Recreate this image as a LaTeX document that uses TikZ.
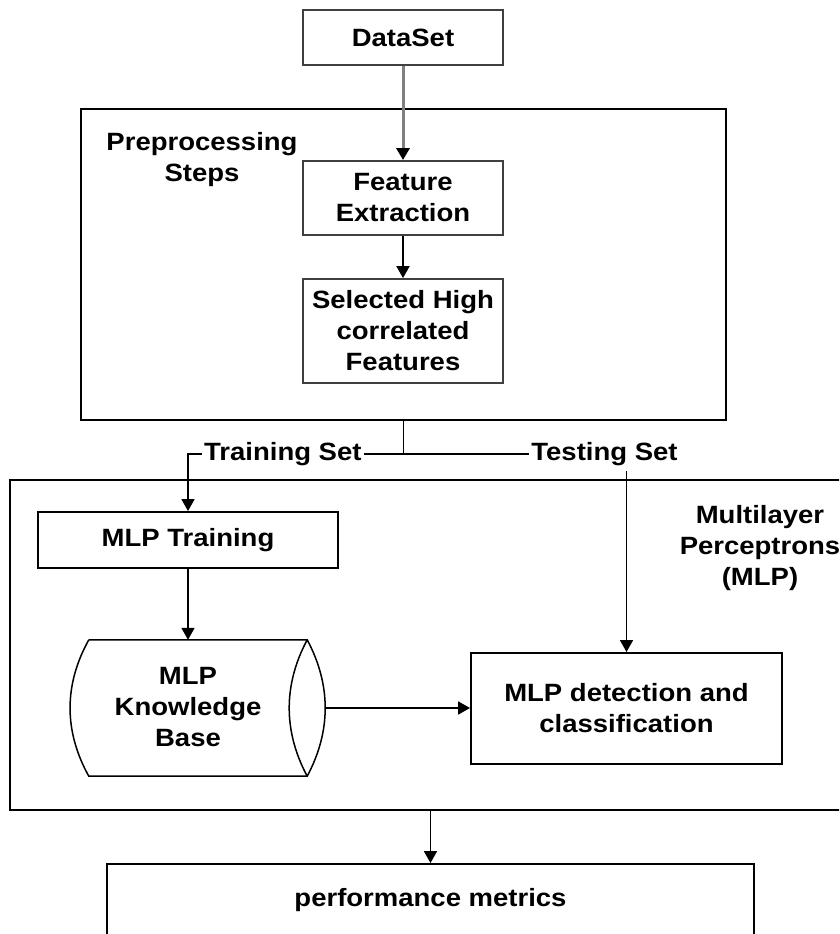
\documentclass[tikz,border=0pt]{standalone}
\usepackage{fontspec}
\setmainfont[FakeStretch=1.1]{Liberation Sans}
\usetikzlibrary{arrows.meta}

\begin{document}
\begin{tikzpicture}[x=1pt,y=-1pt,
    every node/.style={font=\bfseries\fontsize{25}{31}\selectfont,align=center,inner sep=0pt},
    box/.style={draw,line width=1.9pt},
    frame/.style={draw,line width=2pt},
    flow/.style={line width=1.7pt,-{Triangle[length=12pt,width=13pt,color=black]}},
    tag/.style={fill=white,inner xsep=2pt,inner ysep=5pt}]
    \useasboundingbox (0,0) rectangle (839,934);
    \clip (0,0) rectangle (839,934);

    % Preprocessing block
    \node[frame,minimum width=645,minimum height=311] (prep) at (403.5,264.5) {};
    \node (preptxt) at (202,160) {Preprocessing\\Steps};
    \node[box,draw=black!75,minimum width=200,minimum height=55] (data) at (403,37.5) {DataSet};
    \node[box,draw=black!75,minimum width=200,minimum height=74] (feat) at (403,198) {Feature\\Extraction};
    \node[box,draw=black!75,minimum width=200,minimum height=104] (sel) at (403,331) {Selected High\\correlated\\Features};
    \draw[flow,draw=black!50,line width=3pt] (data) -- (feat);
    \draw[flow,line width=2pt] (feat) -- (sel);

    % MLP block
    \node[frame,minimum width=850,minimum height=330] (mlp) at (435,645) {};
    \node (mlptxt) at (760,548) {Multilayer\\Perceptrons\\(MLP)};
    \node[box,minimum width=300,minimum height=56] (train) at (188,540) {MLP Training};
    \node[minimum width=255,minimum height=136] (kb) at (198,708) {};
    \node (kbtxt) at (188,707) {MLP\\Knowledge\\Base};
    \node[box,minimum width=311,minimum height=111] (det) at (626.5,708.5) {MLP detection and\\classification};
    \node[box,minimum width=647,minimum height=72] (perf) at (430.5,900) {performance metrics};

    % Knowledge base drawn as a lying cylinder
    \draw[line width=1.5pt] ([xshift=18.5pt]kb.north west) -- ([xshift=-18.5pt]kb.north east)
        .. controls +(24,45) and +(24,-45) .. ([xshift=-18.5pt]kb.south east)
        -- ([xshift=18.5pt]kb.south west)
        .. controls +(-25,-45) and +(-25,45) .. ([xshift=18.5pt]kb.north west);
    \draw[line width=1.5pt] ([xshift=-18.5pt]kb.north east)
        .. controls +(-24,45) and +(-24,-45) .. ([xshift=-18.5pt]kb.south east);

    % Split into training and testing sets
    \path (prep.south) ++(0,33) coordinate (split);
    \draw[line width=1.9pt] (prep.south) -- (split);
    \draw[flow] (split) -| node[tag,pos=0.28] (trainlbl) {Training Set} (train.north);
    \draw[flow] (split) -| node[tag,pos=0.5,xshift=-22pt] (testlbl) {Testing Set} (det.north);

    \draw[flow] (train) -- (train.south |- kb.north);
    \draw[flow] (kb.east) -- (kb.east -| det.west);
    \draw[flow] (perf.north |- mlp.south) -- (perf.north);
\end{tikzpicture}
\end{document}
